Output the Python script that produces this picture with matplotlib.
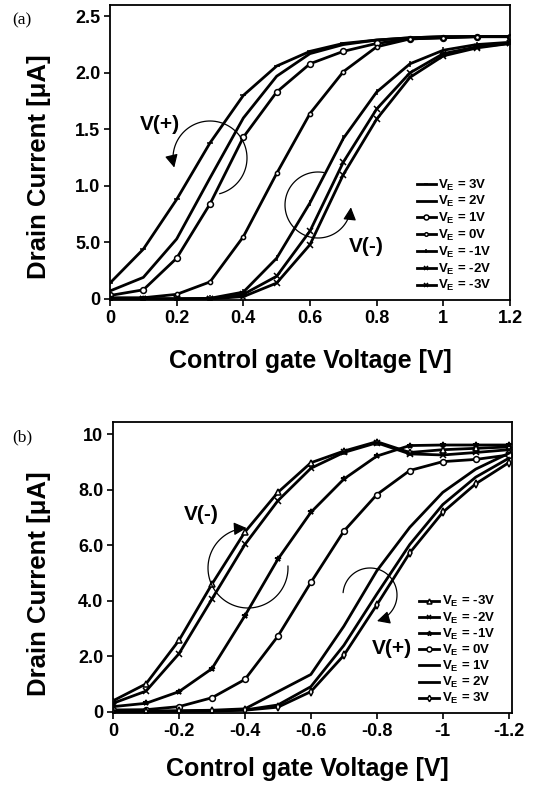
import numpy as np
import matplotlib
matplotlib.use('Agg')
import matplotlib.pyplot as plt
from matplotlib.patches import FancyArrowPatch
from matplotlib.path import Path

plt.rcParams['font.family'] = ['Liberation Sans', 'DejaVu Sans']
plt.rcParams['font.weight'] = 'bold'
plt.rcParams['mathtext.fontset'] = 'custom'
plt.rcParams['mathtext.rm'] = 'Liberation Sans:bold'
plt.rcParams['mathtext.it'] = 'Liberation Sans:bold'
plt.rcParams['mathtext.bf'] = 'Liberation Sans:bold'

# ---- data, panel (a): positive control gate sweep
gate_a = [0, 0.1, 0.2, 0.3, 0.4, 0.5, 0.6, 0.7, 0.8, 0.9, 1.0, 1.1, 1.2]
labels_a = ['3V', '2V', '1V', '0V', '-1V', '-2V', '-3V']
curves_a = [
    [0.14, 0.44, 0.88, 1.38, 1.80, 2.06, 2.19, 2.26, 2.29, 2.31, 2.32, 2.32, 2.32],
    [0.07, 0.19, 0.53, 1.07, 1.60, 1.97, 2.17, 2.25, 2.29, 2.31, 2.32, 2.32, 2.32],
    [0.03, 0.08, 0.36, 0.84, 1.43, 1.83, 2.08, 2.19, 2.26, 2.30, 2.31, 2.32, 2.32],
    [0.01, 0.01, 0.04, 0.15, 0.55, 1.11, 1.64, 2.01, 2.23, 2.30, 2.31, 2.32, 2.32],
    [0.00, 0.00, 0.00, 0.005, 0.06, 0.36, 0.85, 1.42, 1.83, 2.08, 2.20, 2.25, 2.27],
    [0.00, 0.00, 0.00, 0.00, 0.04, 0.20, 0.60, 1.21, 1.68, 2.00, 2.17, 2.23, 2.26],
    [0.00, 0.00, 0.00, 0.00, 0.02, 0.14, 0.48, 1.10, 1.59, 1.96, 2.15, 2.22, 2.26],
]
yticks_a = [0, 0.5, 1.0, 1.5, 2.0, 2.5]
ytick_labels_a = ['0', '5.0', '1.0', '1.5', '2.0', '2.5']
xticks_a = [0, 0.2, 0.4, 0.6, 0.8, 1.0, 1.2]
xtick_labels_a = ['0', '0.2', '0.4', '0.6', '0.8', '1', '1.2']

# ---- data, panel (b): negative control gate sweep
gate_b = [0, -0.1, -0.2, -0.3, -0.4, -0.5, -0.6, -0.7, -0.8, -0.9, -1.0, -1.1, -1.2]
labels_b = ['-3V', '-2V', '-1V', '0V', '1V', '2V', '3V']
curves_b = [
    [0.39, 1.00, 2.57, 4.60, 6.48, 7.91, 8.98, 9.40, 9.74, 9.35, 9.45, 9.50, 9.55],
    [0.30, 0.74, 2.09, 4.06, 6.03, 7.61, 8.78, 9.35, 9.70, 9.30, 9.26, 9.35, 9.45],
    [0.18, 0.30, 0.72, 1.55, 3.46, 5.50, 7.19, 8.39, 9.22, 9.60, 9.62, 9.62, 9.62],
    [0.06, 0.07, 0.18, 0.50, 1.16, 2.72, 4.66, 6.51, 7.83, 8.70, 9.02, 9.10, 9.26],
    [0.02, 0.02, 0.03, 0.05, 0.10, 0.72, 1.34, 3.08, 5.08, 6.65, 7.91, 8.75, 9.32],
    [0.01, 0.01, 0.02, 0.03, 0.06, 0.24, 0.90, 2.39, 4.24, 6.03, 7.47, 8.46, 9.14],
    [0.00, 0.00, 0.01, 0.02, 0.05, 0.16, 0.72, 2.03, 3.85, 5.73, 7.19, 8.22, 8.98],
]
yticks_b = [0, 2, 4, 6, 8, 10]
ytick_labels_b = ['0', '2.0', '4.0', '6.0', '8.0', '10']
xticks_b = [0, -0.2, -0.4, -0.6, -0.8, -1.0, -1.2]
xtick_labels_b = ['0', '-0.2', '-0.4', '-0.6', '-0.8', '-1', '-1.2']

# marker styles (marker, size, filled)
styles_a = [('_', 4, True), ('', 0, True), ('o', 4.2, False), ('o', 3, False),
            ('|', 4, True), ('x', 4, True), ('x', 3.8, True)]
styles_b = [('^', 4.2, False), ('x', 4, True), ('*', 4.2, True), ('o', 4.2, False),
            ('', 0, True), ('', 0, True), ('d', 3.8, False)]

W, H = 557, 790


def px(x, y):
    return x / W, 1 - y / H


def arc_arrow(fig, cx, cy, r, a0, a1):
    t = np.radians(np.linspace(a0, a1, 80))
    pts = [px(cx + r * np.cos(a), cy - r * np.sin(a)) for a in t]
    arr = FancyArrowPatch(path=Path(pts), arrowstyle='-|>,head_length=0.55,head_width=0.28',
                          mutation_scale=14, lw=0.9, color='black',
                          transform=fig.transFigure)
    fig.add_artist(arr)


def draw_panel(ax, gate, curves, labels, styles, xticks, xtl, yticks, ytl, xlim, ylim):
    for ys, lab, (m, ms, filled) in zip(curves, labels, styles):
        ax.plot(gate, ys, color='black', lw=2.0, marker=m if m else None,
                markersize=ms, markerfacecolor='black' if filled else 'white',
                markeredgecolor='black', markeredgewidth=1.1,
                label=r'$\mathrm{V_E}$ = ' + lab)
    ax.set_xlim(*xlim)
    ax.set_ylim(*ylim)
    ax.set_xticks(xticks)
    ax.set_xticklabels(xtl)
    ax.set_yticks(yticks)
    ax.set_yticklabels(ytl)
    ax.tick_params(direction='out', length=4, width=1.2, labelsize=13, pad=3)
    for s in ax.spines.values():
        s.set_linewidth(1.3)
    ax.set_xlabel('Control gate Voltage [V]', fontsize=18, fontweight='bold')
    ax.set_ylabel('Drain Current [μA]', fontsize=18.5, fontweight='bold')


fig = plt.figure(figsize=(W / 100, H / 100), dpi=100)

ax1 = fig.add_axes([110 / W, 1 - 300 / H, 400 / W, 295 / H])
draw_panel(ax1, gate_a, curves_a, labels_a, styles_a, xticks_a, xtick_labels_a,
           yticks_a, ytick_labels_a, (0, 1.2), (-0.01, 2.6))
ax1.xaxis.set_label_coords(0.5, -0.165)
ax1.yaxis.set_label_coords(-0.148, 0.452)
ax1.legend(loc='lower right', bbox_to_anchor=(0.97, 0.0), frameon=False,
           fontsize=9.5, handlelength=1.5, handletextpad=0.15, labelspacing=0.13,
           borderpad=0, markerscale=0.85)

ax2 = fig.add_axes([113 / W, 1 - 713 / H, 399 / W, 291 / H])
draw_panel(ax2, gate_b, curves_b, labels_b, styles_b, xticks_b, xtick_labels_b,
           yticks_b, ytick_labels_b, (0, -1.21), (-0.05, 10.45))
ax2.xaxis.set_label_coords(0.486, -0.15)
ax2.yaxis.set_label_coords(-0.155, 0.445)
ax2.legend(loc='lower right', bbox_to_anchor=(0.975, 0.0), frameon=False,
           fontsize=9.5, handlelength=1.5, handletextpad=0.25, labelspacing=0.08,
           borderpad=0, markerscale=0.85)

# panel tags
fig.text(*px(22, 20), '(a)', family='Liberation Serif', fontweight='normal',
         fontsize=12.5, ha='center', va='center')
fig.text(*px(22, 437), '(b)', family='Liberation Serif', fontweight='normal',
         fontsize=12.5, ha='center', va='center')

# shift annotations
fig.text(*px(160, 124), 'V(+)', fontsize=15, fontweight='bold', ha='center', va='center')
fig.text(*px(366, 246), 'V(-)', fontsize=15, fontweight='bold', ha='center', va='center')
fig.text(*px(201, 514), 'V(-)', fontsize=15, fontweight='bold', ha='center', va='center')
fig.text(*px(392, 649), 'V(+)', fontsize=15, fontweight='bold', ha='center', va='center')

arc_arrow(fig, 210, 158, 37, -75, 195)
arc_arrow(fig, 318, 205, 33, 80, 356)
arc_arrow(fig, 248, 568, 40, 3, -268)
arc_arrow(fig, 370, 595, 27, 175, -75)

fig.savefig('out.png', dpi=100)
